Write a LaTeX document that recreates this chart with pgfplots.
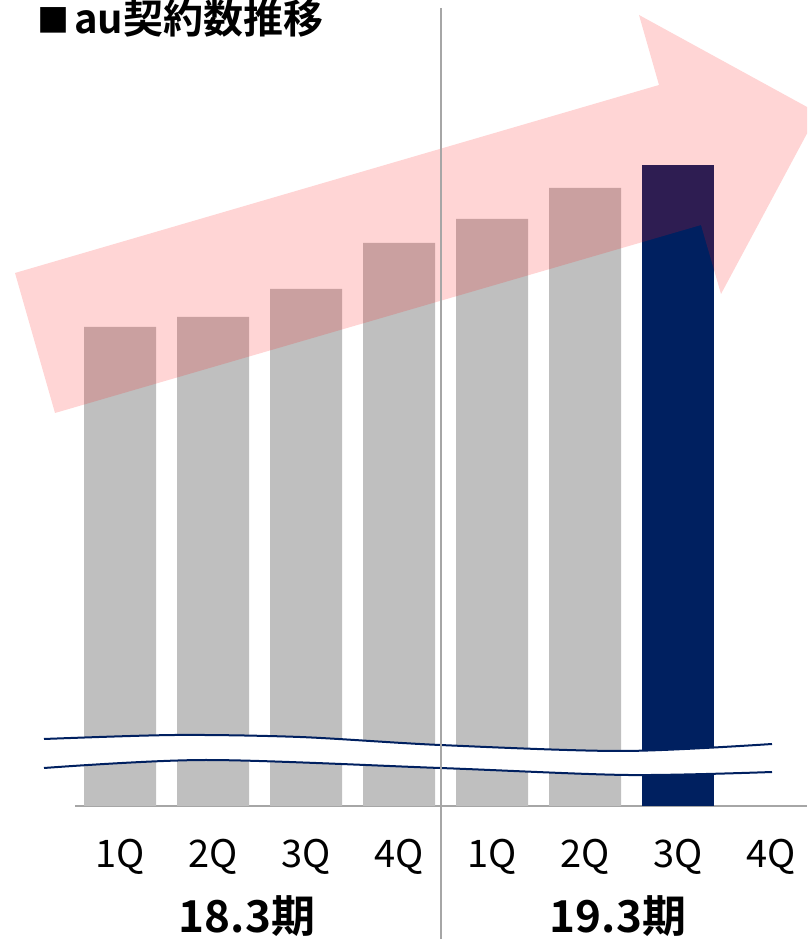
\documentclass[border=0pt]{standalone}
\usepackage{fontspec}
\setmainfont{Noto Sans CJK JP}[BoldFont={Noto Sans CJK JP Bold}]
\usepackage{pgfplots}
\pgfplotsset{compat=1.18}
\definecolor{barg}{HTML}{BFBFBF}
\definecolor{navy}{HTML}{002060}
\definecolor{axg}{HTML}{A6A6A6}
\definecolor{arrowred}{RGB}{255,20,20}
\begin{document}
\begin{tikzpicture}[x=1pt,y=1pt]
\useasboundingbox (0,0) rectangle (807,939);
\clip (0,0) rectangle (807,939);
\begin{axis}[at={(75pt,133pt)}, anchor=south west, scale only axis,
  width=732pt, height=806pt,
  xmin=-0.484, xmax=7.387, ymin=0, ymax=806,
  axis x line*=bottom, axis y line=none,
  x axis line style={draw=axg, line width=2pt},
  ytick=\empty, xtick={0,...,7},
  xticklabels={1Q,2Q,3Q,4Q,1Q,2Q,3Q,4Q}, major tick length=0pt,
  xticklabel style={font=\fontsize{38}{40}\selectfont, anchor=base, yshift=-62pt},
  ybar, bar width=72pt, bar shift=0pt, clip=false]
\addplot[fill=barg, draw=none] coordinates {(0,479)(1,489)(2,517)(3,563)(4,587)(5,618)};
\addplot[fill=navy, draw=none] coordinates {(6,641)};
\end{axis}
% arrow
\fill[arrowred, opacity=0.18] (15,666) -- (659,854) -- (639,924) -- (818,826) -- (721,645) -- (701,714) -- (55,526) -- cycle;
% break band
\fill[white] plot[smooth] coordinates {(44,200)(175,204)(300,202)(440,194)(623,188)(772,195)}
  -- plot[smooth] coordinates {(772,167)(628,164)(440,171)(206,179)(44,171)} -- cycle;
\draw[navy, line width=2pt] plot[smooth] coordinates {(44,200)(175,204)(300,202)(440,194)(623,188)(772,195)};
\draw[navy, line width=2pt] plot[smooth] coordinates {(44,171)(206,179)(440,171)(628,164)(772,167)};
% separator
\draw[axg, line width=1.5pt] (441,931) -- (441,0);
% texts
\node[anchor=base west, inner sep=0pt, font=\bfseries\fontsize{32}{34}\selectfont] at (37,906) {■};
\node[anchor=base west, inner sep=0pt, font=\bfseries\fontsize{40}{42}\selectfont] at (74,905) {au契約数推移};
\node[anchor=base, inner sep=0pt, font=\bfseries\fontsize{44}{46}\selectfont] at (247,6) {18.3期};
\node[anchor=base, inner sep=0pt, font=\bfseries\fontsize{44}{46}\selectfont] at (618,6) {19.3期};
\end{tikzpicture}
\end{document}
